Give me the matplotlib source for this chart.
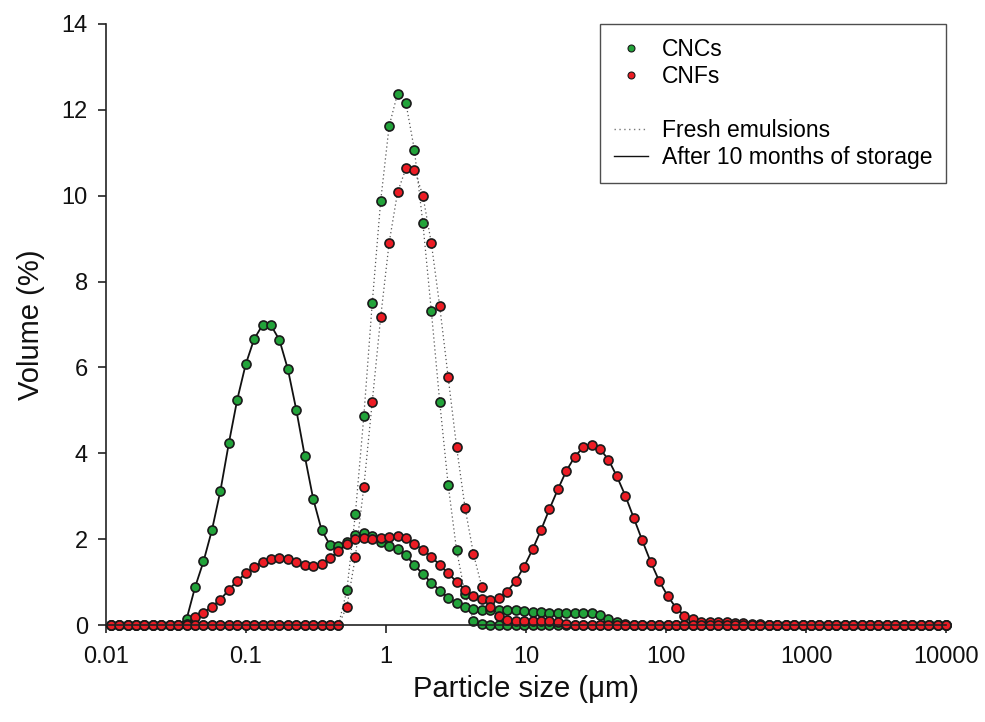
import numpy as np
import matplotlib
matplotlib.use("Agg")
import matplotlib.pyplot as plt
from matplotlib.lines import Line2D

plt.rcParams['font.family'] = ['Liberation Sans', 'DejaVu Sans']

# ---------- Data ----------
# size classes of the instrument (log spaced bins, um)
n_bins = 100
size_um = np.logspace(np.log10(0.0108), 4, n_bins)


def pad(lead, vals):
    # zeros before and after the non-zero part of a distribution
    return np.array([0.0] * lead + vals + [0.0] * (n_bins - lead - len(vals)))


cnc_fresh = pad(28, [0.82, 2.59, 4.86, 7.50, 9.88, 11.62, 12.38, 12.15, 11.06, 9.36,
                     7.32, 5.19, 3.26, 1.74, 0.72, 0.10, 0.02])

cnf_fresh = pad(28, [0.43, 1.59, 3.21, 5.20, 7.17, 8.90, 10.08, 10.64, 10.61, 10.00,
                     8.90, 7.42, 5.77, 4.14, 2.73, 1.65, 0.88, 0.43, 0.20, 0.12,
                     0.10, 0.10, 0.10, 0.10, 0.10, 0.08, 0.02])

cnc_storage = pad(9, [0.14, 0.88, 1.48, 2.21, 3.12, 4.23, 5.25, 6.07, 6.66, 6.99,
                      6.98, 6.64, 5.96, 5.01, 3.94, 2.94, 2.21, 1.86, 1.83, 1.94,
                      2.10, 2.14, 2.07, 1.93, 1.85, 1.76, 1.62, 1.40, 1.18, 0.99,
                      0.80, 0.64, 0.52, 0.43, 0.38, 0.36, 0.36, 0.36, 0.35, 0.34,
                      0.32, 0.31, 0.30, 0.29, 0.28, 0.28, 0.29, 0.29, 0.28, 0.24,
                      0.15, 0.06, 0.02])

cnf_storage = pad(9, [0.03, 0.19, 0.29, 0.43, 0.59, 0.82, 1.03, 1.20, 1.36, 1.47,
                      1.54, 1.55, 1.53, 1.46, 1.40, 1.38, 1.43, 1.55, 1.73, 1.89,
                      2.00, 2.03, 2.01, 2.02, 2.06, 2.08, 2.02, 1.89, 1.75, 1.59,
                      1.40, 1.20, 1.01, 0.82, 0.68, 0.60, 0.58, 0.64, 0.78, 1.03,
                      1.36, 1.76, 2.21, 2.70, 3.16, 3.59, 3.92, 4.14, 4.19, 4.10,
                      3.85, 3.46, 3.01, 2.49, 1.97, 1.47, 1.03, 0.68, 0.40, 0.22,
                      0.13, 0.08, 0.06, 0.06, 0.06, 0.05, 0.04, 0.03, 0.02])

x_ticks = [0.01, 0.1, 1, 10, 100, 1000, 10000]
x_ticklabels = ["0.01", "0.1", "1", "10", "100", "1000", "10000"]
y_ticks = [0, 2, 4, 6, 8, 10, 12, 14]

green = "#22a33a"
red = "#ec1c24"
edge = "#1a1a1a"

# ---------- Plot ----------
fig = plt.figure(figsize=(9.85, 7.22), dpi=100)
ax = fig.add_axes([106 / 985, 1 - 625 / 722, 840 / 985, 601 / 722])

dotted = dict(color="#555555", linewidth=0.9, linestyle=(0, (1, 2.2)))
solid = dict(color="#111111", linewidth=1.3, linestyle="-")
mk = dict(marker="o", markersize=6.5, markeredgecolor=edge, markeredgewidth=1.2)

ax.plot(size_um, cnc_fresh, markerfacecolor=green, **dotted, **mk)
ax.plot(size_um, cnc_storage, markerfacecolor=green, **solid, **mk)
ax.plot(size_um, cnf_storage, markerfacecolor=red, **solid, **mk)
ax.plot(size_um, cnf_fresh, markerfacecolor=red, **dotted, **mk)

ax.set_xscale("log")
ax.set_xlim(0.01, 10000)
ax.set_ylim(0, 14)
ax.set_xticks(x_ticks)
ax.set_xticklabels(x_ticklabels)
ax.minorticks_off()
ax.set_yticks(y_ticks)

for s in ["top", "right"]:
    ax.spines[s].set_visible(False)
for s in ["left", "bottom"]:
    ax.spines[s].set_linewidth(1.2)
    ax.spines[s].set_color("#222222")
ax.tick_params(axis="both", direction="out", length=6, width=1.2, color="#222222",
               labelsize=17, labelcolor="#111111")
ax.tick_params(axis="x", pad=9)
ax.tick_params(axis="y", pad=7)
for line in ax.lines:
    line.set_clip_on(False)

ax.set_xlabel("Particle size (\u03bcm)", fontsize=21, labelpad=5, color="#111111")
ax.set_ylabel("Volume (%)", fontsize=21, labelpad=12, color="#111111")

handles = [
    Line2D([], [], linestyle="none", marker="o", markersize=5, markerfacecolor=green,
           markeredgecolor=edge, markeredgewidth=0.8),
    Line2D([], [], linestyle="none", marker="o", markersize=5, markerfacecolor=red,
           markeredgecolor=edge, markeredgewidth=0.8),
    Line2D([], [], linestyle="none"),
    Line2D([], [], color="#777777", linewidth=1.0, linestyle=(0, (1, 2.5))),
    Line2D([], [], color="#111111", linewidth=1.0),
]
labels = ["CNCs", "CNFs", "", "Fresh emulsions", "After 10 months of storage"]
leg = ax.legend(handles, labels, loc="upper right", bbox_to_anchor=(1, 1),
                borderaxespad=0, fontsize=16.5, frameon=True, fancybox=False,
                handlelength=1.5, handletextpad=0.6, labelspacing=0.18,
                borderpad=0.6)
leg.get_frame().set_edgecolor("#222222")
leg.get_frame().set_linewidth(1.0)

fig.savefig("out.png", dpi=100)
